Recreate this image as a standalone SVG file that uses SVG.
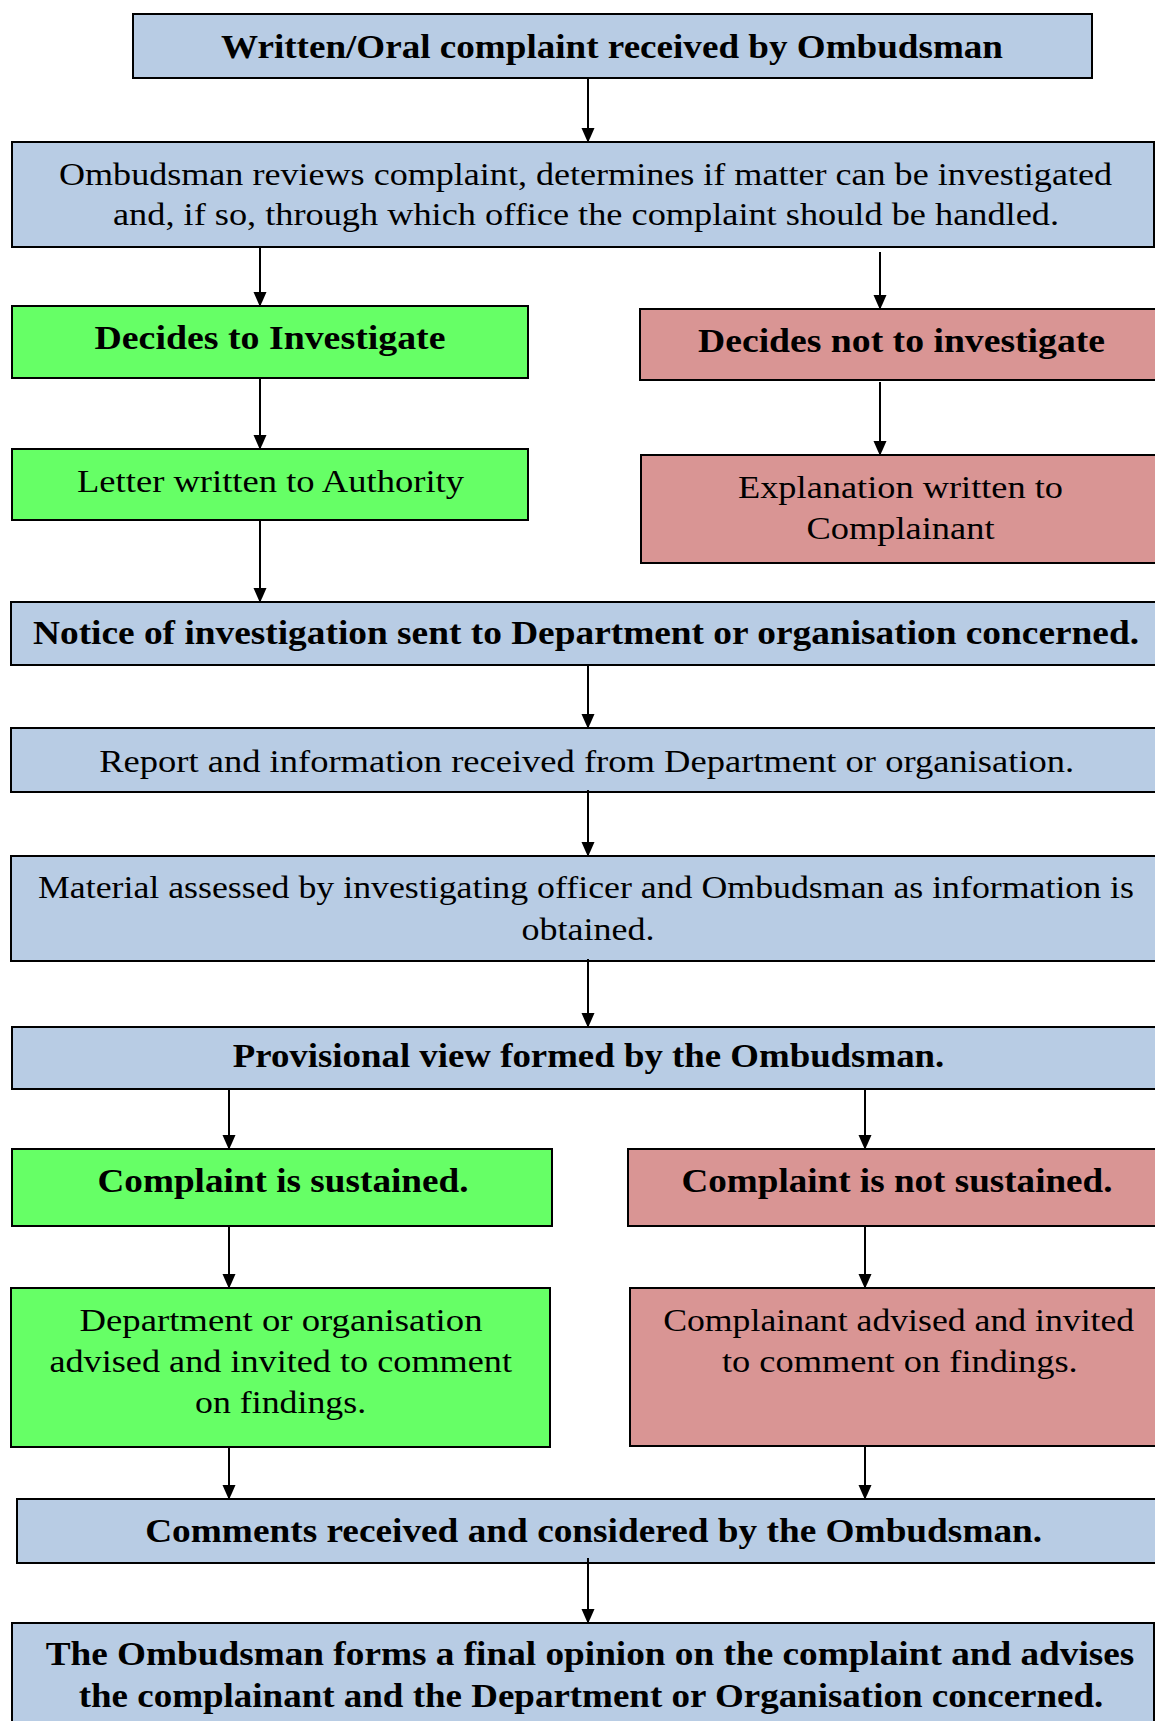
<svg xmlns="http://www.w3.org/2000/svg" width="1155" height="1721" viewBox="0 0 1155 1721">
<defs>
<marker id="ah" markerWidth="15" markerHeight="17" refX="15" refY="7.5" orient="auto" markerUnits="userSpaceOnUse" viewBox="0 0 17 15">
<path d="M0,0 L17,7.5 L0,15 Z" fill="#000"/>
</marker>
</defs>
<style>
rect{stroke:#000;stroke-width:2}
.blue{fill:#B8CCE4}
.green{fill:#66FF66}
.red{fill:#D99594}
text{font-family:"Liberation Serif","Times New Roman",serif;fill:#000;text-anchor:middle}
.r{font-size:32px}
.b{font-size:33px;font-weight:bold}
.conn line{stroke:#000;stroke-width:2;marker-end:url(#ah)}
</style>
<rect width="1155" height="1721" fill="#fff" style="stroke:none"/>
<g id="n1"><rect class="blue" x="133" y="14" width="959" height="64"/>
<text class="b" x="612" y="58" textLength="782" lengthAdjust="spacingAndGlyphs">Written/Oral complaint received by Ombudsman</text></g>
<g id="n2"><rect class="blue" x="12" y="142" width="1142" height="105"/>
<text class="r" x="585.5" y="185" textLength="1053" lengthAdjust="spacingAndGlyphs">Ombudsman reviews complaint, determines if matter can be investigated</text>
<text class="r" x="586" y="225" textLength="946" lengthAdjust="spacingAndGlyphs">and, if so, through which office the complaint should be handled.</text></g>
<g id="n3"><rect class="green" x="12" y="306" width="516" height="72"/>
<text class="b" x="270" y="349" textLength="351" lengthAdjust="spacingAndGlyphs">Decides to Investigate</text></g>
<g id="n4"><rect class="red" x="640" y="309" width="520" height="71"/>
<text class="b" x="901.5" y="351.5" textLength="407" lengthAdjust="spacingAndGlyphs">Decides not to investigate</text></g>
<g id="n5"><rect class="green" x="12" y="449" width="516" height="71"/>
<text class="r" x="270.5" y="491.5" textLength="387" lengthAdjust="spacingAndGlyphs">Letter written to Authority</text></g>
<g id="n6"><rect class="red" x="641" y="455" width="519" height="108"/>
<text class="r" x="900.5" y="497.5" textLength="325" lengthAdjust="spacingAndGlyphs">Explanation written to</text>
<text class="r" x="900.5" y="539.3" textLength="188" lengthAdjust="spacingAndGlyphs">Complainant</text></g>
<g id="n7"><rect class="blue" x="11" y="602" width="1149" height="63"/>
<text class="b" x="586" y="644.3" textLength="1106" lengthAdjust="spacingAndGlyphs">Notice of investigation sent to Department or organisation concerned.</text></g>
<g id="n8"><rect class="blue" x="11" y="728" width="1149" height="64"/>
<text class="r" x="586.7" y="771.7" textLength="975" lengthAdjust="spacingAndGlyphs">Report and information received from Department or organisation.</text></g>
<g id="n9"><rect class="blue" x="11" y="856" width="1149" height="105"/>
<text class="r" x="586" y="898.3" textLength="1096" lengthAdjust="spacingAndGlyphs">Material assessed by investigating officer and Ombudsman as information is</text>
<text class="r" x="588" y="940" textLength="133" lengthAdjust="spacingAndGlyphs">obtained.</text></g>
<g id="n10"><rect class="blue" x="12" y="1027" width="1148" height="62"/>
<text class="b" x="588.5" y="1067.3" textLength="711.5" lengthAdjust="spacingAndGlyphs">Provisional view formed by the Ombudsman.</text></g>
<g id="n11"><rect class="green" x="12" y="1149" width="540" height="77"/>
<text class="b" x="283" y="1191.7" textLength="371" lengthAdjust="spacingAndGlyphs">Complaint is sustained.</text></g>
<g id="n12"><rect class="red" x="628" y="1149" width="532" height="77"/>
<text class="b" x="897" y="1191.7" textLength="431" lengthAdjust="spacingAndGlyphs">Complaint is not sustained.</text></g>
<g id="n13"><rect class="green" x="11" y="1288" width="539" height="159"/>
<text class="r" x="281" y="1330.7" textLength="403" lengthAdjust="spacingAndGlyphs">Department or organisation</text>
<text class="r" x="280.7" y="1372.3" textLength="462.6" lengthAdjust="spacingAndGlyphs">advised and invited to comment</text>
<text class="r" x="280.6" y="1413.3" textLength="171" lengthAdjust="spacingAndGlyphs">on findings.</text></g>
<g id="n14"><rect class="red" x="630" y="1288" width="530" height="158"/>
<text class="r" x="898.7" y="1330.7" textLength="471" lengthAdjust="spacingAndGlyphs">Complainant advised and invited</text>
<text class="r" x="899.8" y="1372.3" textLength="355.8" lengthAdjust="spacingAndGlyphs">to comment on findings.</text></g>
<g id="n15"><rect class="blue" x="17" y="1499" width="1143" height="64"/>
<text class="b" x="593.7" y="1541.7" textLength="897" lengthAdjust="spacingAndGlyphs">Comments received and considered by the Ombudsman.</text></g>
<g id="n16"><rect class="blue" x="12" y="1623" width="1142" height="110"/>
<text class="b" x="590" y="1665" textLength="1088.7" lengthAdjust="spacingAndGlyphs">The Ombudsman forms a final opinion on the complaint and advises</text>
<text class="b" x="591" y="1706.7" textLength="1024.6" lengthAdjust="spacingAndGlyphs">the complainant and the Department or Organisation concerned.</text></g>
<g class="conn" id="connectors">
<line x1="588" y1="78" x2="588" y2="141"/>
<line x1="260" y1="247" x2="260" y2="305"/>
<line x1="880" y1="252" x2="880" y2="308"/>
<line x1="260" y1="378" x2="260" y2="448"/>
<line x1="880" y1="382" x2="880" y2="454"/>
<line x1="260" y1="521" x2="260" y2="601"/>
<line x1="588" y1="665" x2="588" y2="727"/>
<line x1="588" y1="790" x2="588" y2="855"/>
<line x1="588" y1="959" x2="588" y2="1026"/>
<line x1="229" y1="1090" x2="229" y2="1148"/>
<line x1="865" y1="1090" x2="865" y2="1148"/>
<line x1="229" y1="1226" x2="229" y2="1287"/>
<line x1="865" y1="1226" x2="865" y2="1287"/>
<line x1="229" y1="1447" x2="229" y2="1498"/>
<line x1="865" y1="1447" x2="865" y2="1498"/>
<line x1="588" y1="1558" x2="588" y2="1622"/>
</g>
</svg>
